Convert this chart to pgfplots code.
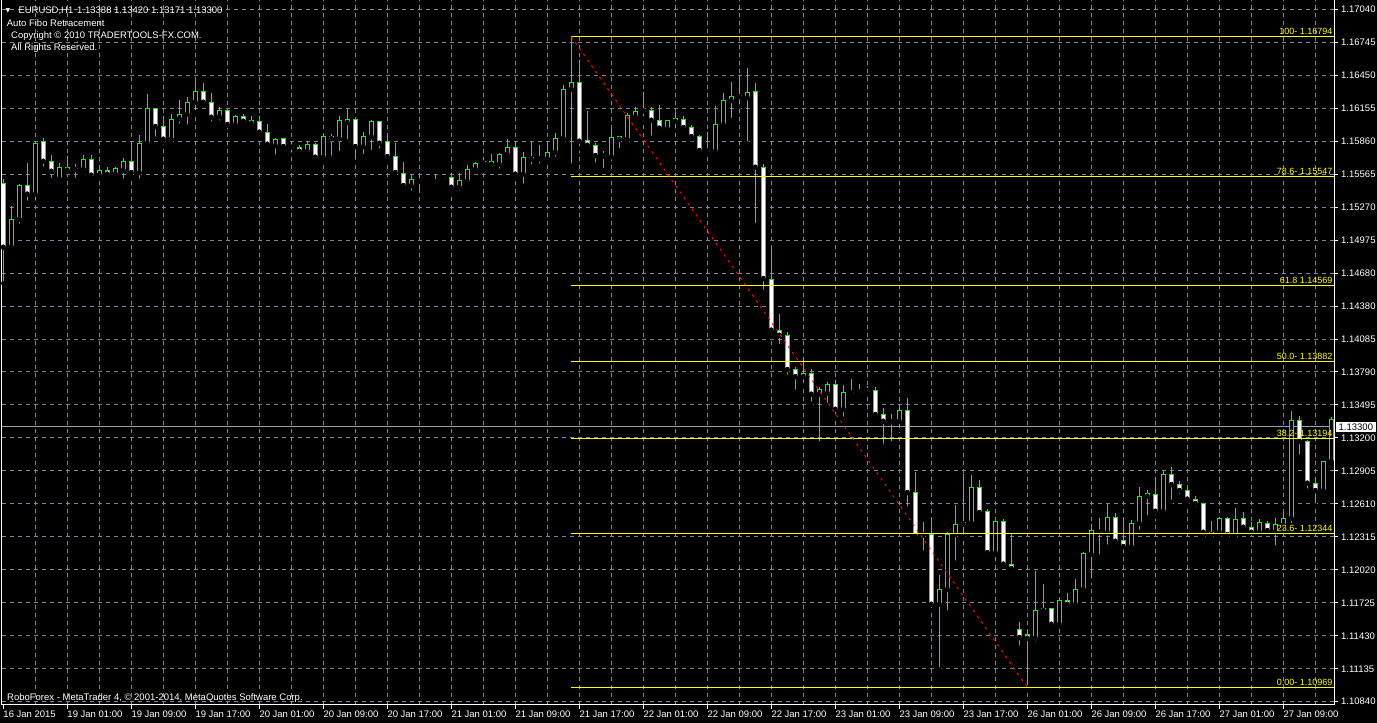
\documentclass[border=0pt]{standalone}
\usepackage{fontspec}
\setmainfont{Liberation Sans}
\newfontfamily\djv{DejaVu Sans}
\usepackage{pgfplots}
\pgfplotsset{compat=1.18}
\usepackage{pgfplotstable}
\definecolor{mtgreen}{RGB}{0,255,0}
\definecolor{mtgrid}{RGB}{119,136,153}
\definecolor{mtyellow}{RGB}{255,255,0}
\definecolor{mtred}{RGB}{255,0,0}
\definecolor{mtbid}{RGB}{150,158,168}
\pgfplotstableread{
i o h l c
0 1.15482 1.15521 1.14587 1.14909
1 1.14914 1.15279 1.14879 1.15160
2 1.15160 1.15476 1.15102 1.15464
3 1.15464 1.15664 1.15308 1.15384
4 1.15384 1.15854 1.15308 1.15840
5 1.15852 1.15888 1.15613 1.15679
6 1.15679 1.15735 1.15512 1.15589
7 1.15523 1.15664 1.15514 1.15625
8 1.15625 1.15726 1.15581 1.15598
9 1.15610 1.15655 1.15512 1.15604
10 1.15607 1.15735 1.15563 1.15697
11 1.15697 1.15735 1.15547 1.15554
12 1.15554 1.15625 1.15523 1.15598
13 1.15598 1.15625 1.15532 1.15563
14 1.15563 1.15625 1.15523 1.15610
15 1.15598 1.15706 1.15505 1.15679
16 1.15679 1.15858 1.15536 1.15577
17 1.15577 1.15914 1.15505 1.15840
18 1.15840 1.16282 1.15804 1.16154
19 1.16154 1.16159 1.15881 1.15989
20 1.15992 1.16082 1.15849 1.15876
21 1.15876 1.16100 1.15846 1.16055
22 1.16060 1.16225 1.15998 1.16100
23 1.16100 1.16255 1.15989 1.16207
24 1.16207 1.16401 1.16118 1.16306
25 1.16306 1.16380 1.16195 1.16207
26 1.16207 1.16291 1.16016 1.16073
27 1.16078 1.16165 1.16025 1.16138
28 1.16138 1.16145 1.15998 1.16007
29 1.16007 1.16091 1.15998 1.16082
30 1.16082 1.16103 1.16031 1.16037
31 1.16019 1.16085 1.16019 1.16040
32 1.16037 1.16085 1.15899 1.15939
33 1.15939 1.16013 1.15825 1.15831
34 1.15819 1.15885 1.15720 1.15876
35 1.15885 1.15890 1.15792 1.15810
36 1.15813 1.15854 1.15738 1.15804
37 1.15804 1.15825 1.15735 1.15769
38 1.15769 1.15858 1.15735 1.15831
39 1.15831 1.15840 1.15675 1.15715
40 1.15715 1.15923 1.15675 1.15903
41 1.15903 1.15923 1.15711 1.15881
42 1.15881 1.16085 1.15753 1.16046
43 1.16025 1.16150 1.15858 1.16055
44 1.16055 1.16060 1.15675 1.15810
45 1.15810 1.15941 1.15726 1.15903
46 1.15899 1.16049 1.15762 1.16037
47 1.16037 1.16043 1.15774 1.15840
48 1.15852 1.15917 1.15691 1.15720
49 1.15724 1.15843 1.15541 1.15577
50 1.15572 1.15673 1.15422 1.15460
51 1.15460 1.15556 1.15398 1.15512
52 1.15509 1.15556 1.15377 1.15500
53 1.15500 1.15518 1.15452 1.15494
54 1.15494 1.15563 1.15473 1.15500
55 1.15529 1.15556 1.15485 1.15536
56 1.15536 1.15572 1.15416 1.15446
57 1.15446 1.15572 1.15398 1.15503
58 1.15500 1.15643 1.15494 1.15607
59 1.15607 1.15673 1.15581 1.15661
60 1.15679 1.15720 1.15625 1.15661
61 1.15679 1.15742 1.15616 1.15652
62 1.15652 1.15753 1.15595 1.15742
63 1.15742 1.15879 1.15729 1.15804
64 1.15804 1.15849 1.15521 1.15563
65 1.15563 1.15762 1.15460 1.15715
66 1.15715 1.15852 1.15631 1.15697
67 1.15702 1.15825 1.15640 1.15700
68 1.15702 1.15834 1.15700 1.15762
69 1.15760 1.15932 1.15702 1.15885
70 1.15885 1.16362 1.15861 1.16324
71 1.16324 1.16794 1.15640 1.16386
72 1.16386 1.16586 1.15795 1.15858
73 1.15867 1.16129 1.15801 1.15822
74 1.15822 1.15843 1.15649 1.15729
75 1.15733 1.15771 1.15601 1.15726
76 1.15720 1.15975 1.15720 1.15894
77 1.15897 1.15905 1.15780 1.15876
78 1.15876 1.16109 1.15870 1.16091
79 1.16078 1.16165 1.16055 1.16129
80 1.16136 1.16300 1.16064 1.16129
81 1.16138 1.16165 1.15890 1.16046
82 1.16046 1.16183 1.15968 1.15975
83 1.15971 1.16040 1.15953 1.16040
84 1.16037 1.16111 1.15953 1.16058
85 1.16049 1.16085 1.15971 1.15980
86 1.15986 1.16004 1.15876 1.15899
87 1.15903 1.15914 1.15771 1.15774
88 1.15778 1.15941 1.15744 1.15771
89 1.15769 1.16174 1.15762 1.16010
90 1.16007 1.16291 1.16004 1.16225
91 1.16222 1.16389 1.16049 1.16261
92 1.16264 1.16454 1.16168 1.16257
93 1.16248 1.16514 1.15840 1.16297
94 1.16306 1.16380 1.15109 1.15625
95 1.15625 1.15652 1.14511 1.14628
96 1.14622 1.14903 1.14121 1.14166
97 1.14166 1.14312 1.14025 1.14121
98 1.14121 1.14148 1.13750 1.13813
99 1.13817 1.13834 1.13616 1.13750
100 1.13750 1.13929 1.13676 1.13781
101 1.13781 1.13817 1.13509 1.13593
102 1.13593 1.13655 1.13154 1.13637
103 1.13602 1.13700 1.13497 1.13682
104 1.13682 1.13721 1.13392 1.13458
105 1.13458 1.13673 1.13374 1.13611
106 1.13611 1.13730 1.13580 1.13604
107 1.13613 1.13685 1.13589 1.13620
108 1.13622 1.13664 1.13593 1.13629
109 1.13629 1.13655 1.13401 1.13410
110 1.13414 1.13467 1.13132 1.13351
111 1.13351 1.13414 1.13154 1.13345
112 1.13351 1.13506 1.13273 1.13449
113 1.13449 1.13557 1.12572 1.12712
114 1.12712 1.12897 1.12294 1.12324
115 1.12339 1.12447 1.12174 1.12333
116 1.12336 1.12482 1.11661 1.11712
117 1.11712 1.11972 1.11130 1.11847
118 1.11847 1.12357 1.11641 1.12339
119 1.12336 1.12599 1.12085 1.12429
120 1.12429 1.12879 1.12318 1.12447
121 1.12443 1.12867 1.12438 1.12760
122 1.12760 1.12825 1.12503 1.12533
123 1.12545 1.12566 1.12166 1.12174
124 1.12174 1.12460 1.12172 1.12456
125 1.12456 1.12476 1.12068 1.12071
126 1.12071 1.12342 1.12028 1.12031
127 1.11491 1.11554 1.11324 1.11413
128 1.11444 1.11482 1.10969 1.11408
129 1.11408 1.12011 1.11360 1.11661
130 1.11655 1.11894 1.11617 1.11677
131 1.11677 1.11679 1.11491 1.11533
132 1.11533 1.11766 1.11527 1.11748
133 1.11748 1.11811 1.11697 1.11712
134 1.11712 1.11939 1.11710 1.11847
135 1.11847 1.12183 1.11845 1.12163
136 1.12160 1.12431 1.11924 1.12375
137 1.12366 1.12485 1.12139 1.12357
138 1.12353 1.12608 1.12228 1.12491
139 1.12491 1.12527 1.12246 1.12276
140 1.12285 1.12482 1.12225 1.12228
141 1.12228 1.12467 1.12199 1.12438
142 1.12438 1.12760 1.12362 1.12679
143 1.12706 1.12736 1.12491 1.12679
144 1.12694 1.12850 1.12497 1.12545
145 1.12545 1.12909 1.12542 1.12879
146 1.12879 1.12942 1.12631 1.12783
147 1.12787 1.12819 1.12679 1.12730
148 1.12733 1.12760 1.12610 1.12653
149 1.12653 1.12679 1.12568 1.12613
150 1.12613 1.12619 1.12312 1.12357
151 1.12357 1.12458 1.12312 1.12336
152 1.12357 1.12491 1.12312 1.12482
153 1.12482 1.12497 1.12312 1.12336
154 1.12336 1.12577 1.12333 1.12476
155 1.12482 1.12539 1.12362 1.12402
156 1.12402 1.12449 1.12353 1.12357
157 1.12357 1.12476 1.12353 1.12447
158 1.12438 1.12458 1.12348 1.12371
159 1.12362 1.12482 1.12219 1.12429
160 1.12422 1.12541 1.12362 1.12482
161 1.12482 1.13443 1.12422 1.13360
162 1.13360 1.13401 1.13034 1.13172
163 1.13172 1.13184 1.12730 1.12796
164 1.12796 1.12855 1.12599 1.12730
165 1.12730 1.12933 1.12727 1.12993
166 1.12993 1.13392 1.12984 1.13369
}\candles
\begin{document}
\begin{tikzpicture}[font=\fontsize{9.5}{11}\selectfont]
\useasboundingbox (0,0) rectangle (1377pt,723pt);
\fill[black] (0,0) rectangle (1377pt,723pt);
\begin{axis}[
  at={(2pt,18pt)}, anchor=south west,
  scale only axis, width=1332pt, height=706pt,
  xmin=-0.1625, xmax=166.3375,
  ymin=1.108107, ymax=1.171322,
  clip mode=individual,
  axis line style={white, line width=1pt},
  xtick={8,16,...,160},
  xticklabels={19 Jan 01:00,19 Jan 09:00,19 Jan 17:00,20 Jan 01:00,20 Jan 09:00,20 Jan 17:00,21 Jan 01:00,21 Jan 09:00,21 Jan 17:00,22 Jan 01:00,22 Jan 09:00,22 Jan 17:00,23 Jan 01:00,23 Jan 09:00,23 Jan 17:00,26 Jan 01:00,26 Jan 09:00,26 Jan 17:00,27 Jan 01:00,27 Jan 09:00},
  extra x ticks={0}, extra x tick labels={16 Jan 2015},
  extra x tick style={grid=none},
  minor xtick={4,12,...,164},
  ytick={1.170400,1.167448,1.164495,1.161543,1.158590,1.155638,1.152686,1.149733,1.146781,1.143829,1.140876,1.137924,1.134971,1.132019,1.129067,1.126114,1.123162,1.120210,1.117257,1.114305,1.111352,1.108400},
  yticklabels={1.17040,1.16745,1.16450,1.16155,1.15860,1.15565,1.15270,1.14975,1.14680,1.14380,1.14085,1.13790,1.13495,1.13200,1.12905,1.12610,1.12315,1.12020,1.11725,1.11430,1.11135,1.10840},
  xtick pos=bottom, ytick pos=right, yticklabel pos=right,
  tick align=outside,
  major tick length=4pt, minor tick length=0pt,
  tick style={white, line width=1pt},
  grid=both,
  major grid style={mtgrid, line width=1pt, dash pattern=on 4pt off 4pt},
  minor grid style={mtgrid, line width=1pt, dash pattern=on 4pt off 4pt},
  tick label style={text=white, font=\fontsize{9.5}{11}\selectfont},
  xticklabel style={anchor=north west, inner sep=0pt, yshift=-2pt},
  yticklabel style={anchor=west, inner sep=0pt, xshift=3pt},
]
% bid line
\addplot[mtbid, line width=1pt, forget plot] coordinates {(-0.2,1.13300) (166.4,1.13300)};
% wicks
\addplot[only marks, mark=none, forget plot,
  error bars/.cd, y dir=plus, y explicit, error mark=none,
  error bar style={mtgreen, solid, line width=1pt}]
  table[x=i, y=l, y error plus expr=\thisrow{h}-\thisrow{l}] {\candles};
% body outlines
\addplot[only marks, mark=none, forget plot,
  error bars/.cd, y dir=plus, y explicit, error mark=none,
  error bar style={mtgreen, solid, line width=5pt}]
  table[x=i, y expr={min(\thisrow{o},\thisrow{c})-0.0000448},
        y error plus expr={abs(\thisrow{o}-\thisrow{c})+0.0000895}] {\candles};
% bearish bodies (white)
\addplot[only marks, mark=none, forget plot,
  error bars/.cd, y dir=plus, y explicit, error mark=none,
  error bar style={white, solid, line width=3pt}]
  table[x=i, y expr={min(\thisrow{o},\thisrow{c})+0.0000448},
        y error plus expr={\thisrow{o}>\thisrow{c} ? max(\thisrow{o}-\thisrow{c}-0.0000895,0) : 0}] {\candles};
% bullish bodies (black)
\addplot[only marks, mark=none, forget plot,
  error bars/.cd, y dir=plus, y explicit, error mark=none,
  error bar style={black, solid, line width=3pt}]
  table[x=i, y expr={min(\thisrow{o},\thisrow{c})+0.0000448},
        y error plus expr={\thisrow{c}>\thisrow{o} ? max(\thisrow{c}-\thisrow{o}-0.0000895,0) : 0}] {\candles};
% fibo levels
\addplot[mtyellow, line width=1pt, forget plot] coordinates {(71,1.16794) (166.4,1.16794)};
\addplot[mtyellow, line width=1pt, forget plot] coordinates {(71,1.15547) (166.4,1.15547)};
\addplot[mtyellow, line width=1pt, forget plot] coordinates {(71,1.14569) (166.4,1.14569)};
\addplot[mtyellow, line width=1pt, forget plot] coordinates {(71,1.13882) (166.4,1.13882)};
\addplot[mtyellow, line width=1pt, forget plot] coordinates {(71,1.13194) (166.4,1.13194)};
\addplot[mtyellow, line width=1pt, forget plot] coordinates {(71,1.12344) (166.4,1.12344)};
\addplot[mtyellow, line width=1pt, forget plot] coordinates {(71,1.10969) (166.4,1.10969)};
% trend line
\addplot[mtred, line width=1pt, dash pattern=on 2.5pt off 4.5pt, forget plot] coordinates {(71,1.16794) (128,1.10969)};
% fibo labels
\begin{scope}[every node/.style={text=mtyellow, font=\fontsize{9}{10}\selectfont, inner sep=0pt, anchor=base east, xshift=-1.5pt, yshift=2pt}]
\node at (axis cs:166.3375,1.16794) {100- 1.16794};
\node at (axis cs:166.3375,1.15547) {78.6- 1.15547};
\node at (axis cs:166.3375,1.14569) {61.8 1.14569};
\node at (axis cs:166.3375,1.13882) {50.0- 1.13882};
\node at (axis cs:166.3375,1.13194) {38.2- 1.13194};
\node at (axis cs:166.3375,1.12344) {23.6- 1.12344};
\node at (axis cs:166.3375,1.10969) {0.00- 1.10969};
\end{scope}
\node[fill=white, text=black, inner xsep=3pt, inner ysep=1.5pt, text height=6.8pt, text depth=0pt, anchor=west, xshift=1.5pt] at (axis cs:166.3375,1.13300) {1.13300};
\end{axis}
\begin{scope}[every node/.style={text=white, inner sep=0pt, anchor=base west}]
\node at (5.5pt,710pt) {\djv\fontsize{6}{6}\selectfont ▼};
\node at (18.3pt,709.3pt) {EURUSD,H1\hspace{1.2pt} 1.13388 1.13420 1.13171 1.13300};
\node at (6.7pt,696.3pt) {Auto Fibo Retracement};
\node at (11pt,684pt) {Copyright © 2010 TRADERTOOLS-FX.COM.};
\node at (11pt,672.3pt) {All Rights Reserved.};
\node at (7pt,22pt) {RoboForex - MetaTrader 4, © 2001-2014, MetaQuotes Software Corp.};
\end{scope}
\end{tikzpicture}
\end{document}
